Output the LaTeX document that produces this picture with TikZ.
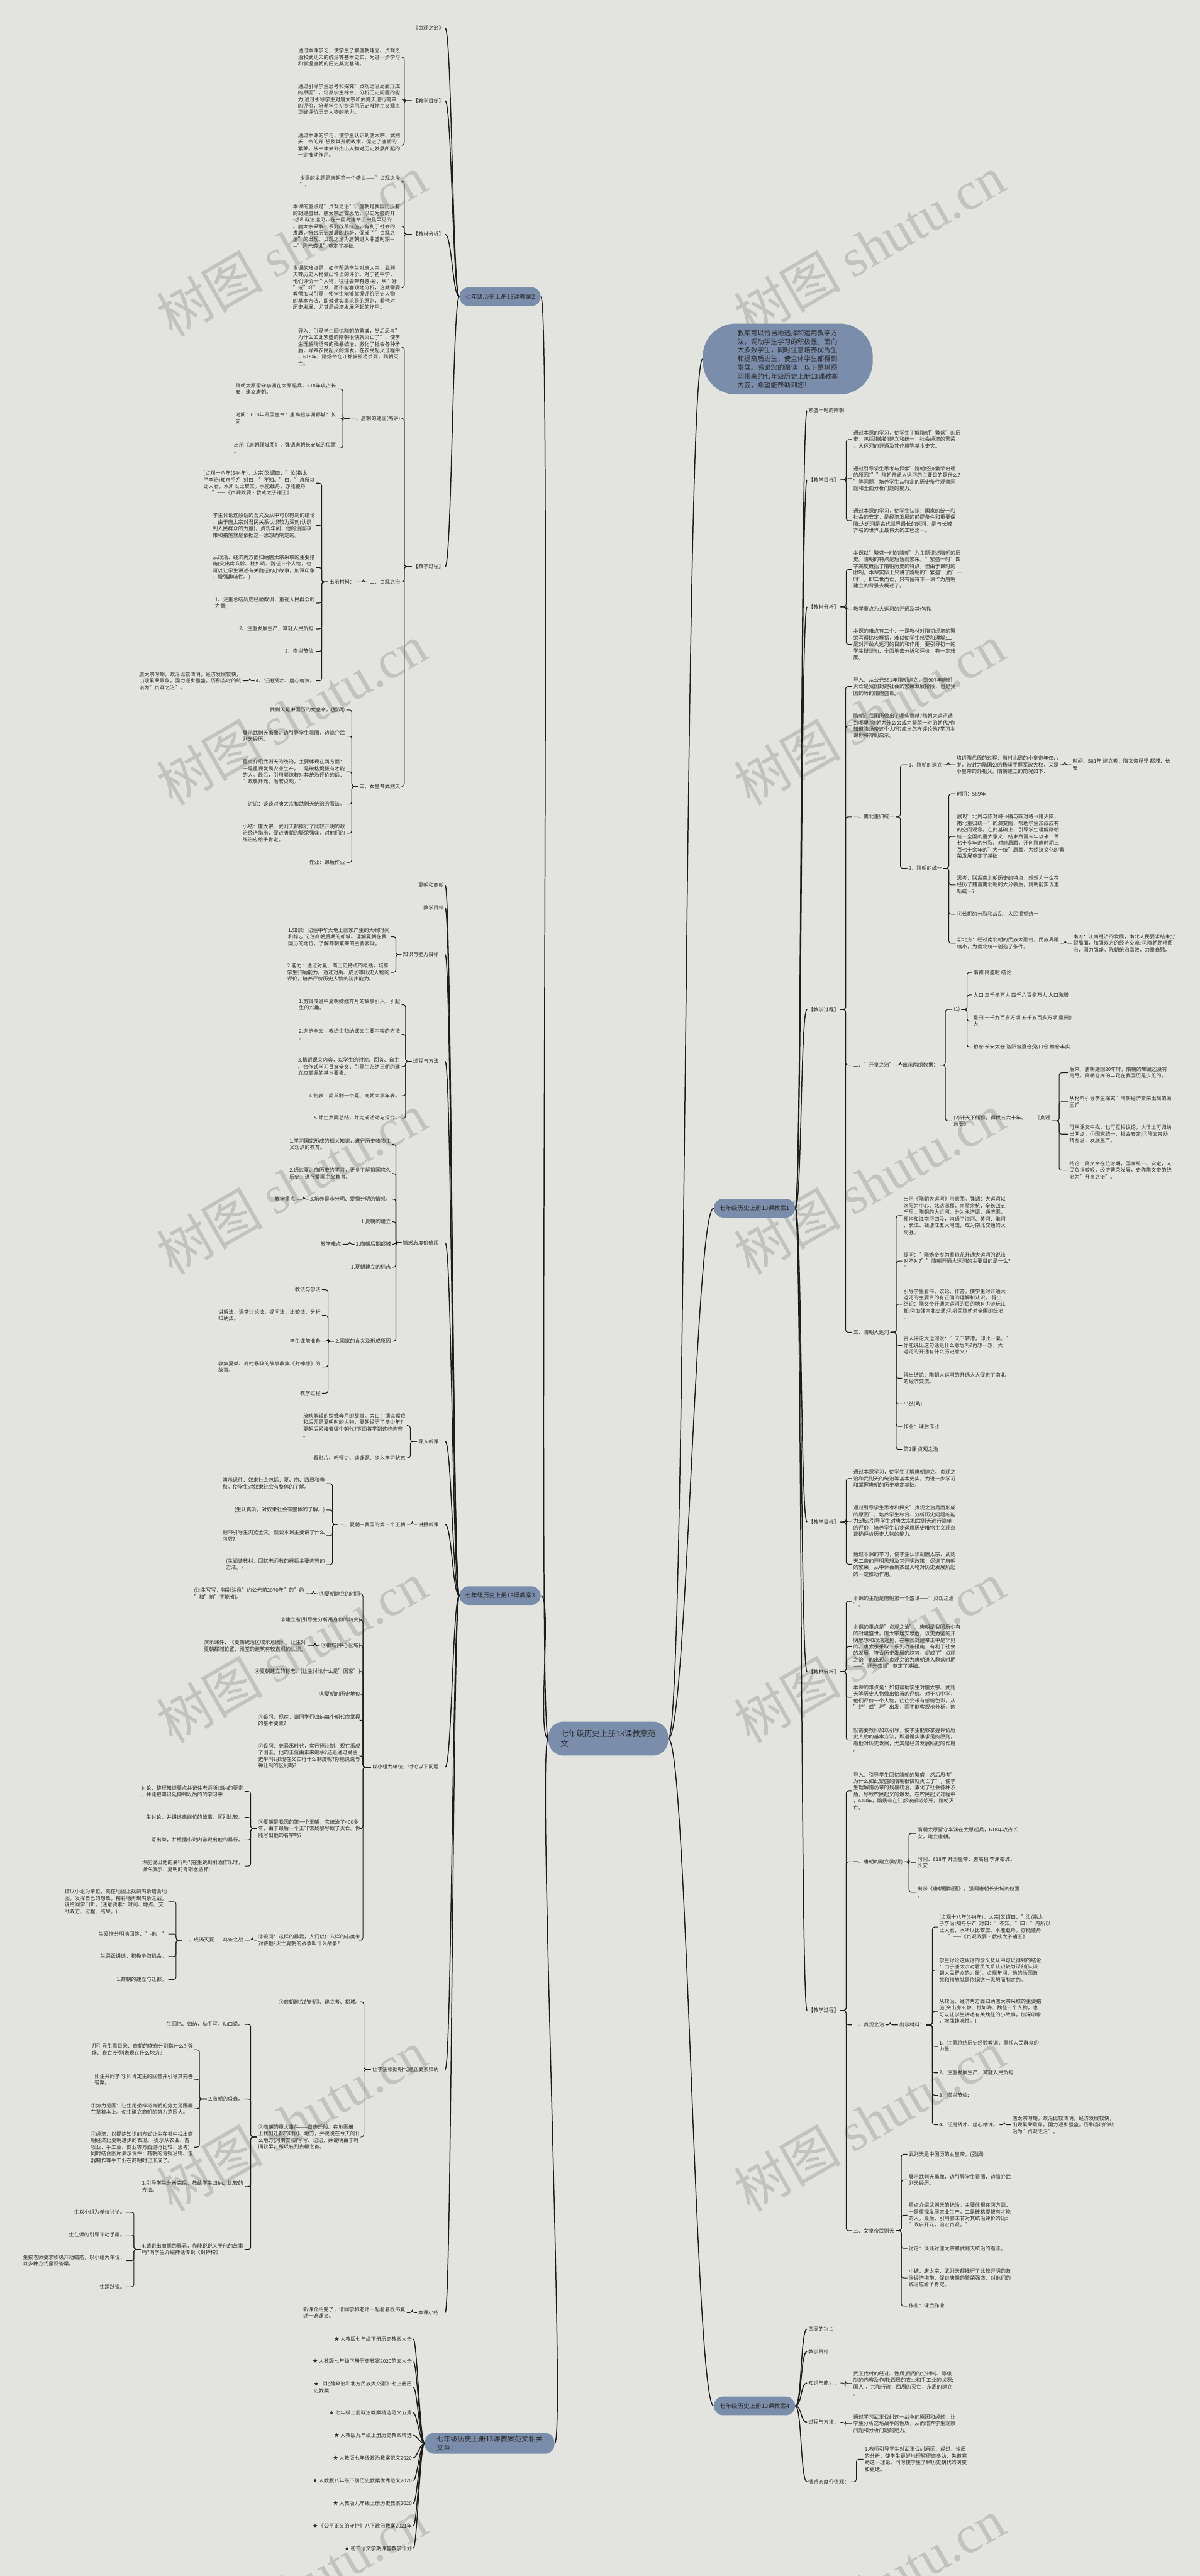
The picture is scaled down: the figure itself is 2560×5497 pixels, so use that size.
\documentclass[tikz,border=0pt]{standalone}
\usepackage{fontspec}
\setmainfont{Noto Sans CJK SC}
\newfontfamily\wmlat{Liberation Serif}
\definecolor{bg}{HTML}{E3E4DF}
\definecolor{nodeb}{HTML}{7A8DAB}
\definecolor{txt}{HTML}{2B2B2B}
\definecolor{lc}{HTML}{1C1C1C}
\definecolor{wm}{HTML}{C2C3BE}
\newcommand\fA{\fontsize{5.45}{7}\selectfont}
\newcommand\fL{\fontsize{6.4}{8}\selectfont}
\newcommand\fC{\fontsize{8.4}{10.4}\selectfont}
\newcommand\fR{\fontsize{7.5}{9.25}\selectfont}
\newcommand\fI{\fontsize{7.1}{9.25}\selectfont}
\newcommand\fW{\fontsize{57}{60}\selectfont}
\newcommand\LB[3]{\draw[lk] (#1.west) -- ++(-#3,0) |- (#2.east);}
\newcommand\RB[3]{\draw[lk] (#1.east) -- ++(#3,0) |- (#2.west);}
\newcommand\LC[2]{\draw[mk] (#1.west) .. controls +(-14,0) and +(14,0) .. (#2.east);}
\newcommand\RC[2]{\draw[mk] (#1.east) .. controls +(14,0) and +(-14,0) .. (#2.west);}
\tikzset{
 lt/.style={anchor=east, align=left, font=\fA, text=txt, inner sep=0pt, outer xsep=1.5pt},
 rt/.style={anchor=west, align=left, font=\fA, text=txt, inner sep=0pt, outer xsep=1.5pt},
 lk/.style={draw=lc, line width=0.7pt, rounded corners=2.5pt},
 mk/.style={draw=lc, line width=1pt},
 l1/.style={fill=nodeb, rounded corners=10pt, font=\fL, text=txt, inner xsep=6pt, inner ysep=5pt, minimum height=20pt, align=left},
 cnode/.style={fill=nodeb, rounded corners=16pt, font=\fC, text=txt, inner xsep=13pt, inner ysep=9pt, align=left},
 wmk/.style={text=wm, rotate=30, inner sep=0pt}
}
\begin{document}
\begin{tikzpicture}[x=0.5pt,y=-0.5pt]
\useasboundingbox (0,0) rectangle (2560,5497);
\fill[bg] (0,0) rectangle (2560,5497);
% watermarks
\foreach \yy in {525,1525,2525,3525,4525,5525}{
 \node[wmk] at (622,\yy) {\fW 树图 {\wmlat shutu.cn}};
 \node[wmk] at (1855,\yy) {\fW 树图 {\wmlat shutu.cn}};
}
% ================= center =================
\node[cnode] (c) at (1298,3710) {七年级历史上册13课教案范\\文};
\node[fill=nodeb, rounded corners=35pt, font=\fI, text=txt, align=left, inner xsep=37pt, minimum height=75.5pt] (intro) at (1681,766) {教案可以恰当地选择和运用教学方\\法，调动学生学习的积极性，面向\\大多数学生，同时注意培养优秀生\\和提高后进生，使全体学生都得到\\发展。感谢您的阅读，以下是树图\\网带来的七年级历史上册13课教案\\内容，希望能帮助到您！};
\node[l1,anchor=west] (n2) at (980,633) {七年级历史上册13课教案2};
\node[l1,anchor=west] (n3) at (980,3405) {七年级历史上册13课教案3};
\node[l1,anchor=east] (n1) at (1697,2578) {七年级历史上册13课教案1};
\node[l1,anchor=east] (n4) at (1697,5134) {七年级历史上册13课教案4};
\node[l1,anchor=west,font=\fR,inner xsep=12.5pt,inner ysep=3pt] (rel) at (906,5214) {七年级历史上册13课教案范文相关\\文章：};
\draw[mk] (c.west) .. controls +(-25,0) and +(25,0) .. (n2.east);
\draw[mk] (c.west) .. controls +(-25,0) and +(25,0) .. (n3.east);
\draw[mk] (c.west) .. controls +(-25,0) and +(25,0) .. (rel.east);
\draw[mk] (c.east) .. controls +(40,0) and +(-40,0) .. (intro.west);
\draw[mk] (c.east) .. controls +(40,0) and +(-40,0) .. (n1.west);
\draw[mk] (c.east) .. controls +(40,0) and +(-40,0) .. (n4.west);
% ================= 教案2 (left top) =================
\node[lt] (a1) at (950,60) {《贞观之治》};
\node[lt] (a2) at (950,215) {【教学目标】};
\node[lt] (a3) at (950,500) {【教材分析】};
\node[lt] (a4) at (950,1209) {【教学过程】};
\foreach \t in {a1,a2,a3,a4}{\LC{n2}{\t}}
\node[lt] (a2a) at (857,122) {通过本课学习，使学生了解唐朝建立、贞观之\\治和武则天的统治等基本史实，为进一步学习\\和掌握唐朝的历史奠定基础。};
\node[lt] (a2b) at (857,212) {通过引导学生思考和探究"贞观之治局面形成\\的原因"，培养学生综合、分析历史问题的能\\力;通过引导学生对唐太宗和武则天进行简单\\的评价，培养学生初步运用历史唯物主义观点\\正确评价历史人物的能力。};
\node[lt] (a2c) at (857,310) {通过本课的学习，使学生认识到唐太宗、武则\\天二帝的开-想及其开明政策，促进了唐朝的\\繁荣，从中体会到杰出人物对历史发展所起的\\一定推动作用。};
\foreach \t in {a2a,a2b,a2c}{\LB{a2}{\t}{16}}
\node[lt] (a3a) at (857,387) {本课的主题是唐朝第一个盛世——"贞观之治\\"。};
\node[lt] (a3b) at (857,483) {本课的重点是"贞观之治"。唐朝是我国历少有\\的封建盛世。唐太宗居安思危，以史为鉴的开\\-想和政治远见，在中国封建帝王中是罕见的\\。唐太宗采取一系列改革措施，有利于社会的\\发展，符合历史发展的趋势，促成了"贞观之\\治"的出现。贞观之治为唐朝进入鼎盛时期—\\—"开元盛世"奠定了基础。};
\node[lt] (a3c) at (857,614) {本课的难点是：如何帮助学生对唐太宗、武则\\天等历史人物做出恰当的评价。对于初中学，\\他们评价一个人物，往往会带有感-彩，从"好\\"或"坏"出发，而不能客观地分析，这就需要\\教师加以引导，使学生能够掌握评价历史人物\\的基本方法，即遵循实事求是的原则，看他对\\历史发展，尤其是经济发展所起的作用。};
\foreach \t in {a3a,a3b,a3c}{\LB{a3}{\t}{16}}
\node[lt] (a4a) at (857,741) {导入：引导学生回忆隋朝的繁盛，然后思考"\\为什么如此繁盛的隋朝很快就灭亡了"，使学\\生理解隋炀帝的残暴统治，激化了社会各种矛\\盾，导致农民起义的爆发。在农民起义过程中\\，618年，隋炀帝在江都被部将杀死，隋朝灭\\亡。};
\node[lt] (a4b) at (857,893) {一、唐朝的建立(略讲)};
\node[lt] (a4c) at (857,1242) {二、贞观之治};
\node[lt] (a4d) at (857,1678) {三、女皇帝武则天};
\foreach \t in {a4a,a4b,a4c,a4d}{\LB{a4}{\t}{16}}
\node[lt] (a4b1) at (720,830) {隋朝太原留守李渊在太原起兵，618年攻占长\\安，建立唐朝。};
\node[lt] (a4b2) at (720,892) {时间：618年开国皇帝：唐高祖李渊都城：长\\安};
\node[lt] (a4b3) at (720,956) {出示《唐朝疆域图》，强调唐朝长安城的位置\\。};
\foreach \t in {a4b1,a4b2,a4b3}{\LB{a4b}{\t}{14}}
\node[lt] (a4cm) at (760,1242) {出示材料：};
\LB{a4c}{a4cm}{10}
\node[lt] (a4c1) at (675,1031) {[贞观十八年(644年)，太宗]又谓曰："汝(指太\\子李治)知舟乎?"对曰："不知。"曰："舟所以\\比人君，水所以比黎庶。水能载舟，亦能覆舟\\......"——《贞观政要•教戒太子诸王》};
\node[lt] (a4c2) at (675,1121) {学生讨论这段话的含义及从中可以得到的结论\\：由于唐太宗对君民关系认识较为深刻(认识\\到人民群众的力量)，贞观年间，他的治国政\\策和措施就是依据这一思想而制定的。};
\node[lt] (a4c3) at (675,1211) {从政治、经济两方面归纳唐太宗采取的主要措\\施(突出房玄龄、杜如晦、魏征三个人物，也\\可以让学生讲述有关魏征的小故事，加深印象\\，增强趣味性。)};
\node[lt] (a4c4) at (675,1287) {1、注重总结历史经验教训，重视人民群众的\\力量;};
\node[lt] (a4c5) at (675,1342) {2、注重发展生产，减轻人民负担;};
\node[lt] (a4c6) at (675,1390) {3、崇尚节俭;};
\node[lt] (a4c7) at (675,1453) {4、任用贤才、虚心纳谏。};
\foreach \t in {a4c1,a4c2,a4c3,a4c4,a4c5,a4c6,a4c7}{\LB{a4cm}{\t}{13}}
\node[lt] (a4c7a) at (518,1453) {唐太宗时期，政治比较清明，经济发展较快，\\出现繁荣景象，国力逐步强盛。历称当时的统\\治为"贞观之治"。};
\LB{a4c7}{a4c7a}{10}
\node[lt] (a4d1) at (739,1515) {武则天是中国历的女皇帝。(强调)};
\node[lt] (a4d2) at (739,1571) {展示武则天画像，边引导学生看图，边简介武\\则天经历。};
\node[lt] (a4d3) at (739,1647) {重点介绍武则天的统治，主要体现在两方面：\\一是重视发展农业生产，二是破格提拔有才能\\的人。最后，引用郭沫若对其统治评价的话：\\"政启开元，治宏贞观。"};
\node[lt] (a4d4) at (739,1716) {讨论：谈谈对唐太宗和武则天统治的看法。};
\node[lt] (a4d5) at (739,1778) {小结：唐太宗、武则天都推行了比较开明的政\\治经济措施，促进唐朝的繁荣强盛，对他们的\\统治应给予肯定。};
\node[lt] (a4d6) at (739,1840) {作业：课后作业};
\foreach \t in {a4d1,a4d2,a4d3,a4d4,a4d5,a4d6}{\LB{a4d}{\t}{13}}
% ================= 教案3 (left) =================
\node[lt] (c1) at (950,1889) {夏朝和商朝};
\node[lt] (c2) at (950,1937) {教学目标};
\node[lt] (c3) at (950,2037) {知识与能力目标：};
\node[lt] (c4) at (950,2265) {过程与方法：};
\node[lt] (c5) at (950,2652) {情感态度价值观：};
\node[lt] (c6) at (950,3076) {导入新课：};
\node[lt] (c7) at (950,3253) {讲授新课：};
\node[lt] (c8) at (950,3771) {以小组为单位，讨论以下问题：};
\node[lt] (c9) at (950,4416) {让学生根据朝代建立要素归纳：};
\node[lt] (c10) at (950,4935) {本课小结：};
\foreach \t in {c1,c2,c3,c4,c5,c6,c7,c8,c9,c10}{\LC{n3}{\t}}
\node[lt] (c3a) at (834,1999) {1.知识：记住中华大地上国家产生的大概时间\\和标志,记住商朝后期的都城。理解夏朝在我\\国历的地位。了解商朝繁荣的主要表现。};
\node[lt] (c3b) at (834,2075) {2.能力：通过对夏、商历史特点的概括，培养\\学生归纳能力。通过对禹、成汤等历史人物的\\评价，培养评价历史人物的初步能力。};
\foreach \t in {c3a,c3b}{\LB{c3}{\t}{12}}
\node[lt] (c4a) at (857,2144) {1.剪辑传说中夏朝嫦娥奔月的故事引入，引起\\生的兴趣。};
\node[lt] (c4b) at (857,2207) {2.浏览全文，教给生归纳课文主要内容的方法\\。};
\node[lt] (c4c) at (857,2276) {3.精讲课文内容，以学生的讨论、回答、自主\\、合作式学习贯穿全文，引导生归纳王朝的建\\立应掌握的基本要素。};
\node[lt] (c4d) at (857,2338) {4.制表：简单制一个夏、商朝大事年表。};
\node[lt] (c4e) at (857,2386) {5.师生共同总结，并完成活动与探究。};
\foreach \t in {c4a,c4b,c4c,c4d,c4e}{\LB{c4}{\t}{13}}
\node[lt] (c5a) at (837,2442) {1.学习国家形成的相关知识，进行历史唯物主\\义观点的教育。};
\node[lt] (c5b) at (837,2504) {2.通过夏、商历史的学习，更多了解祖国悠久\\历史，进行爱国主义教育。};
\node[lt] (c5c) at (837,2559) {3.培养是非分明、爱憎分明的情感。};
\node[lt] (c5d) at (837,2607) {1.夏朝的建立};
\node[lt] (c5e) at (837,2655) {2.商朝后期都城};
\node[lt] (c5f) at (837,2704) {1.夏朝建立的标志};
\node[lt] (c5g) at (837,2862) {2.国家的含义及形成原因};
\foreach \t in {c5a,c5b,c5c,c5d,c5e,c5f,c5g}{\LB{c5}{\t}{12}}
\node[lt] (c5c1) at (633,2559) {教学重点};
\LB{c5c}{c5c1}{10}
\node[lt] (c5e1) at (731,2655) {教学难点};
\LB{c5e}{c5e1}{10}
\node[lt] (c5g1) at (687,2752) {教法与学法};
\node[lt] (c5g2) at (687,2807) {讲解法、课堂讨论法、提问法、比较法、分析\\归纳法。};
\node[lt] (c5g3) at (687,2862) {学生课前准备};
\node[lt] (c5g4) at (687,2917) {收集夏桀、商纣暴政的故事收集《封神榜》的\\故事。};
\node[lt] (c5g5) at (687,2973) {教学过程};
\foreach \t in {c5g1,c5g2,c5g3,c5g4,c5g5}{\LB{c5g}{\t}{13}}
\node[lt] (c6a) at (868,3042) {放映剪辑的嫦娥奔月的故事。旁白：据说嫦娥\\和后羿是夏朝时的人物，夏朝经历了多少年?\\夏朝后紧接着哪个朝代?下面将学到这些内容\\。};
\node[lt] (c6b) at (868,3111) {看影片、听师讲、读课题、步入学习状态};
\foreach \t in {c6a,c6b}{\LB{c6}{\t}{14}}
\node[lt] (d1) at (868,3253) {一、夏朝—我国的第一个王朝};
\LB{c7}{d1}{10}
\node[lt] (d1a) at (696,3166) {演示课件：奴隶社会包括：夏、商、西周和春\\秋，使学生对奴隶社会有整体的了解。};
\node[lt] (d1b) at (696,3222) {(生认真听，对奴隶社会有整体的了解。)};
\node[lt] (d1c) at (696,3277) {翻书引导生浏览全文，谈谈本课主要讲了什么\\内容?};
\node[lt] (d1d) at (696,3339) {(生阅读教材，回忆老师教的概括主要内容的\\方法。)};
\foreach \t in {d1a,d1b,d1c,d1d}{\LB{d1}{\t}{12}}
\node[lt] (e1) at (772,3401) {①夏朝建立的时间};
\node[lt] (e2) at (772,3457) {②建立者(引导生分析禹身份的转变)};
\node[lt] (e3) at (772,3512) {③都城(中心区域)};
\node[lt] (e4) at (772,3567) {④夏朝建立的标志：(让生讨论什么是"国家")};
\node[lt] (e5) at (772,3615) {⑤夏朝的历史地位};
\node[lt] (e6) at (772,3671) {⑥设问：现在，请同学们归纳每个朝代应掌握\\的基本要素?};
\node[lt] (e7) at (772,3747) {⑦设问：尧舜禹时代，实行禅让制，现在禹成\\了国王，他的王位由谁来继承?还是通过民主\\选举吗?那现在又实行什么制度呢?你能说说与\\禅让制的区别吗?};
\node[lt] (e8) at (772,3902) {⑧夏朝是我国的第一个王朝，它统治了400多\\年，由于最后一个王非常残暴导致了灭亡。你\\能写出他的名字吗?};
\node[lt] (e9) at (772,4140) {⑨设问：这样的暴君，人们以什么样的态度来\\对待他?灭亡夏朝的战争叫什么战争?};
\foreach \t in {e1,e2,e3,e4,e5,e6,e7,e8,e9}{\LB{c8}{\t}{17}}
\node[lt] (e1a) at (652,3401) {(让生写写，特别注意"约公元前2070年"的"约\\"和"前"不能省)。};
\LB{e1}{e1a}{10}
\node[lt] (e3a) at (656,3512) {演示课件：《夏朝统治区域示意图》，让生对\\夏朝都城位置、殿堂的建筑有较直观的认识。};
\LB{e3}{e3a}{10}
\node[lt] (e8a) at (522,3823) {讨论、整理知识要点并记住老师所归纳的要素\\、并能把知识延伸到以后的的学习中};
\node[lt] (e8b) at (522,3878) {生讨论，并讲述启继位的故事，区别比较。};
\node[lt] (e8c) at (522,3926) {写出桀，并根据小说内容说出他的暴行。};
\node[lt] (e8d) at (522,3982) {你能说出他的暴行吗?(在生说到引酒作乐时，\\课件演示：夏朝的青铜器酒杯)};
\foreach \t in {e8a,e8b,e8c,e8d}{\LB{e8}{\t}{13}}
\node[lt] (f) at (522,4140) {二、成汤灭夏——鸣条之战};
\LB{e9}{f}{10}
\node[lt] (f1) at (359,4058) {请以小组为单位，先在地图上找到鸣条结合地\\图，发挥自己的想象，精彩地再现鸣条之战，\\说给同学们听。(注意要素：时间、地点、交\\战双方、过程、结果。)};
\node[lt] (f2) at (359,4127) {生爱憎分明地回答："-他。"};
\node[lt] (f3) at (359,4175) {生踊跃讲述，积极争取机会。};
\node[lt] (f4) at (359,4224) {1.商朝的建立与迁都。};
\foreach \t in {f1,f2,f3,f4}{\LB{f}{\t}{13}}
\node[lt] (g1) at (772,4272) {①商朝建立的时间、建立者、都城。};
\node[lt] (g2) at (772,4560) {②商朝的重大事件——盘庚迁殷。在地图册\\上找出迁都的时间、地方，并说说在今天的什\\么地方(河南安阳)写写、记记，并说明由于时\\间较早，所以名列古都之首。};
\foreach \t in {g1,g2}{\LB{c9}{\t}{15}}
\node[lt] (g2a) at (522,4320) {生回忆、归纳，动手写，动口说。};
\node[lt] (h) at (522,4479) {2.商朝的盛衰。};
\node[lt] (g2c) at (522,4666) {3.引导学生分析完后，教给学生归纳、比较的\\方法。};
\node[lt] (i) at (522,4800) {4.请说出商朝的暴君，你能说说关于他的故事\\吗?向学生介绍神话传说《封神榜》};
\foreach \t in {g2a,h,g2c,i}{\LB{g2}{\t}{13}}
\node[lt] (h1) at (415,4374) {师引导生看目录：商朝的盛衰分别指什么?(强\\盛、衰亡)分别表现在什么地方?};
\node[lt] (h2) at (415,4437) {师生共同学习;师肯定生的回答并引导其完善\\答案。};
\node[lt] (h3) at (415,4500) {①势力范围：让生用坐标将商朝的势力范围画\\在草稿本上。使生确立商朝的势力范围大。};
\node[lt] (h4) at (415,4582) {②经济：以提炼知识的方式让生在书中找出商\\朝经济比夏朝进步的表现。(提示从农业、畜\\牧业、手工业、商业等方面进行比较、思考)\\同时结合图片演示课件：商朝的青铜冶铸、玉\\器制作等手工业在商朝时已形成了。};
\foreach \t in {h1,h2,h3,h4}{\LB{h}{\t}{16}}
\node[lt] (i1) at (270,4721) {生以小组为单位讨论。};
\node[lt] (i2) at (270,4769) {生在师的引导下动手画。};
\node[lt] (i3) at (270,4824) {生按老师要求积极开动脑筋，以小组为单位，\\以多种方式呈现答案。};
\node[lt] (i4) at (270,4880) {生踊跃说。};
\foreach \t in {i1,i2,i3,i4}{\LB{i}{\t}{14}}
\node[lt] (c10a) at (868,4935) {新课介绍完了，请同学和老师一起看着板书复\\述一遍课文。};
\LB{c10}{c10a}{10}
% ================= related =================
\node[lt] (r1) at (882,4991) {★ 人教版七年级下册历史教案大全};
\node[lt] (r2) at (882,5039) {★ 人教版七年级下册历史教案2020范文大全};
\node[lt] (r3) at (882,5094) {★ 《北魏政治和北方民族大交融》七上册历\\史教案};
\node[lt] (r4) at (882,5149) {★ 七年级上册政治教案精选范文五篇};
\node[lt] (r5) at (882,5197) {★ 人教版九年级上册历史教案精选};
\node[lt] (r6) at (882,5245) {★ 人教版七年级政治教案范文2020};
\node[lt] (r7) at (882,5293) {★ 人教版八年级下册历史教案优秀范文2020};
\node[lt] (r8) at (882,5342) {★ 人教版九年级上册历史教案2020};
\node[lt] (r9) at (882,5390) {★ 《公平正义的守护》八下政治教案2021年};
\node[lt] (r10) at (882,5438) {★ 初三语文学期课堂教学计划};
\foreach \t in {r1,r2,r3,r4,r5,r6,r7,r8,r9,r10}{\draw[mk] (rel.west) .. controls +(-10,0) and +(8,0) .. (\t.east);}
% ================= 教案1 (right) =================
\node[rt] (k1) at (1722,876) {繁盛一时的隋朝};
\node[rt] (k2) at (1722,1024) {【教学目标】};
\node[rt] (k3) at (1722,1295) {【教材分析】};
\node[rt] (k4) at (1722,2154) {【教学过程】};
\node[rt] (k5) at (1722,3248) {【教学目标】};
\node[rt] (k6) at (1722,3567) {【教材分析】};
\node[rt] (k7) at (1722,4290) {【教学过程】};
\foreach \t in {k1,k2,k3,k4,k5,k6,k7}{\RC{n1}{\t}}
\node[rt] (k2a) at (1818,938) {通过本课的学习，使学生了解隋朝"繁盛"的历\\史，包括隋朝的建立和统一，社会经济的繁荣\\，大运河的开通及其作用等基本史实。};
\node[rt] (k2b) at (1818,1021) {通过引导学生思考与探索"隋朝经济繁荣出现\\的原因?""隋朝开通大运河的主要目的是什么?\\"等问题，培养学生从特定的历史条件观察问\\题和全面分析问题的能力。};
\node[rt] (k2c) at (1818,1111) {通过本课的学习，使学生认识：国家的统一和\\社会的安定，是经济发展的前提条件和重要保\\障;大运河是古代世界最长的运河，是与长城\\齐名的世界上最伟大的工程之一。};
\foreach \t in {k2a,k2b,k2c}{\RB{k2}{\t}{12}}
\node[rt] (k3a) at (1818,1215) {本课以"繁盛一时的隋朝"为主题讲述隋朝的历\\史。隋朝的特点是短暂而繁荣。"繁盛一时"四\\字高度概括了隋朝历史的特点，但由于课时的\\限制，本课实际上只讲了隋朝的"繁盛";而"一\\时"，即二世而亡，只有留待下一课作为唐朝\\建立的背景去概述了。};
\node[rt] (k3b) at (1818,1300) {教学重点为大运河的开通及其作用。};
\node[rt] (k3c) at (1818,1375) {本课的难点有二个：一是教材对隋初经济的繁\\荣写得比较概括，难以使学生感受和理解;二\\是对开凿大运河的目的和作用，要引导初一的\\学生辩证地、全面地去分析和评价，有一定难\\度。};
\foreach \t in {k3a,k3b,k3c}{\RB{k3}{\t}{12}}
\node[rt] (m1) at (1818,1465) {导入：从公元581年隋朝建立，到907年唐朝\\灭亡是我国封建社会的繁荣发展阶段，也是我\\国的历的隋唐盛世。};
\node[rt] (m2) at (1818,1549) {隋朝在我国历做出了哪些贡献?隋朝大运河通\\到哪里?隋朝为什么会成为繁荣一时的朝代?你\\知道隋炀帝这个人吗?应当怎样评论他?学习本\\课你将得到启示。};
\node[rt] (m3) at (1818,1743) {一、南北重归统一};
\node[rt] (m4) at (1818,2273) {二、"开皇之治"};
\node[rt] (m5) at (1818,2843) {三、隋朝大运河};
\foreach \t in {m1,m2,m3,m4,m5}{\RB{k4}{\t}{11}}
\node[rt] (p1) at (1936,1632) {1、隋朝的建立};
\node[rt] (p2) at (1936,1853) {2、隋朝的统一};
\foreach \t in {p1,p2}{\RB{m3}{\t}{10}}
\node[rt] (p1a) at (2038,1632) {略讲隋代周的过程：当时北周的小皇帝年仅八\\岁，被封为隋国公的杨坚手握军政大权，又是\\小皇帝的外祖父。隋朝建立的简况如下：};
\RB{p1}{p1a}{10}
\node[rt] (p1b) at (2286,1632) {时间：581年 建立者：隋文帝杨坚 都城：长\\安};
\RB{p1a}{p1b}{10}
\node[rt] (p2a) at (2039,1694) {时间：589年};
\node[rt] (p2b) at (2039,1785) {展现"北周与陈对峙→隋与陈对峙→隋灭陈，\\南北重归统一"的演变图，帮助学生形成应有\\的空间观念。在此基础上，引导学生理解隋朝\\统一全国的重大意义：结束西晋末年以来二百\\七十多年的分裂、对峙局面，开创隋唐时期三\\百七十余年的"大一统"局面，为经济文化的繁\\荣发展奠定了基础};
\node[rt] (p2c) at (2039,1888) {思考：联系南北朝历史的特点，想想为什么在\\经历了魏晋南北朝的大分裂后，隋朝能实现重\\新统一?};
\node[rt] (p2d) at (2039,1951) {①长期的分裂和战乱，人民渴望统一};
\node[rt] (p2e) at (2039,2013) {②北方：经过南北朝的民族大融合，民族界限\\缩小，为南北统一创造了条件。};
\foreach \t in {p2a,p2b,p2c,p2d,p2e}{\RB{p2}{\t}{11}}
\node[rt] (p2f) at (2287,2013) {南方：江南经济的发展，南北人民要求结束分\\裂局面，加强双方的经济交流; ③隋朝励精图\\治，国力强盛。陈朝统治腐败，力量衰弱。};
\RB{p2e}{p2f}{10}
\node[rt] (r) at (1923,2273) {出示两组数据：};
\RB{m4}{r}{10}
\node[rt] (ra) at (2032,2154) {(1)};
\node[rt] (rb) at (2032,2392) {(2)计天下储积，得供五六十年。——《贞观\\政要》};
\foreach \t in {ra,rb}{\RB{r}{\t}{12}}
\node[rt] (ra1) at (2074,2075) {隋初 隋盛时 结论};
\node[rt] (ra2) at (2074,2123) {人口 三千多万人 四千六百多万人 人口激增};
\node[rt] (ra3) at (2074,2179) {垦田 一千九百多万顷 五千五百多万顷 垦田扩\\大};
\node[rt] (ra4) at (2074,2234) {粮仓 长安太仓 洛阳含嘉仓;洛口仓 粮仓丰实};
\foreach \t in {ra1,ra2,ra3,ra4}{\RB{ra}{\t}{12}}
\node[rt] (rb1) at (2279,2289) {后来，唐朝建国20年时，隋朝的库藏还没有\\用尽。隋朝仓库的丰足在我国历是少见的。};
\node[rt] (rb2) at (2279,2351) {从材料引导学生探究"隋朝经济繁荣出现的原\\因?"};
\node[rt] (rb3) at (2279,2420) {可从课文中找，也可互相议论，大体上可归纳\\出两点：①国家统一，社会安定;②隋文帝励\\精图治，发展生产。};
\node[rt] (rb4) at (2279,2497) {结论：隋文帝在位时期，国家统一、安定，人\\民负担较轻，经济繁荣发展，史称隋文帝的统\\治为"开皇之治"。};
\foreach \t in {rb1,rb2,rb3,rb4}{\RB{rb}{\t}{16}}
\node[rt] (m5a) at (1925,2594) {出示《隋朝大运河》示意图。强调：大运河以\\洛阳为中心，北达涿郡，南至余杭，全长四五\\千里。隋朝的大运河，分为永济渠、通济渠、\\邗沟和江南河四段，沟通了海河、黄河、淮河\\、长江、钱塘江五大河流，成为南北交通的大\\动脉。};
\node[rt] (m5b) at (1925,2691) {提问："隋炀帝专为看琼花开通大运河的说法\\对不对?""隋朝开通大运河的主要目的是什么?\\"};
\node[rt] (m5c) at (1925,2783) {引导学生看书、议论、作答，使学生对开通大\\运河的主要目的有正确的理解和认识。 得出\\结论：隋文帝开通大运河的目的地有①游玩江\\都;②加强南北交通;③巩固隋朝对全国的统治\\。};
\node[rt] (m5d) at (1925,2871) {古人评论大运河说："天下转漕，仰此一渠。"\\你能说出这句话是什么意思吗?再想一想，大\\运河的开通有什么历史意义?};
\node[rt] (m5e) at (1925,2941) {得出结论：隋朝大运河的开通大大促进了南北\\的经济交流。};
\node[rt] (m5f) at (1925,2996) {小结(略)};
\node[rt] (m5g) at (1925,3044) {作业：课后作业};
\node[rt] (m5h) at (1925,3093) {第2课 贞观之治};
\foreach \t in {m5a,m5b,m5c,m5d,m5e,m5f,m5g,m5h}{\RB{m5}{\t}{12}}
\node[rt] (k5a) at (1818,3155) {通过本课学习，使学生了解唐朝建立、贞观之\\治和武则天的统治等基本史实，为进一步学习\\和掌握唐朝的历史奠定基础。};
\node[rt] (k5b) at (1818,3246) {通过引导学生思考和探究"贞观之治局面形成\\的原因"，培养学生综合、分析历史问题的能\\力;通过引导学生对唐太宗和武则天进行简单\\的评价，培养学生初步运用历史唯物主义观点\\正确评价历史人物的能力。};
\node[rt] (k5c) at (1818,3338) {通过本课的学习，使学生认识到唐太宗、武则\\天二帝的开明思想及其开明政策，促进了唐朝\\的繁荣，从中体会到杰出人物对历史发展所起\\的一定推动作用。};
\foreach \t in {k5a,k5b,k5c}{\RB{k5}{\t}{12}}
\node[rt] (k6a) at (1818,3417) {本课的主题是唐朝第一个盛世——"贞观之治\\"。};
\node[rt] (k6b) at (1818,3514) {本课的重点是"贞观之治"。唐朝是我国历少有\\的封建盛世。唐太宗居安思危，以史为鉴的开\\明思想和政治远见，在中国封建帝王中是罕见\\的。唐太宗采取一系列改革措施，有利于社会\\的发展，符合历史发展的趋势，促成了"贞观\\之治"的出现。贞观之治为唐朝进入鼎盛时期\\——"开元盛世"奠定了基础。};
\node[rt] (k6c) at (1818,3622) {本课的难点是：如何帮助学生对唐太宗、武则\\天等历史人物做出恰当的评价。对于初中学，\\他们评价一个人物，往往会带有感情色彩，从\\"好"或"坏"出发，而不能客观地分析，这};
\node[rt] (k6d) at (1818,3713) {就需要教师加以引导，使学生能够掌握评价历\\史人物的基本方法，即遵循实事求是的原则，\\看他对历史发展，尤其是经济发展所起的作用\\。};
\foreach \t in {k6a,k6b,k6c,k6d}{\RB{k6}{\t}{12}}
\node[rt] (s1) at (1818,3822) {导入：引导学生回忆隋朝的繁盛，然后思考"\\为什么如此繁盛的隋朝很快就灭亡了"，使学\\生理解隋炀帝的残暴统治，激化了社会各种矛\\盾，导致农民起义的爆发。在农民起义过程中\\，618年，隋炀帝在江都被部将杀死，隋朝灭\\亡。};
\node[rt] (s2) at (1818,3973) {一、唐朝的建立(略讲)};
\node[rt] (s3) at (1818,4321) {二、贞观之治};
\node[rt] (s4) at (1818,4760) {三、女皇帝武则天};
\foreach \t in {s1,s2,s3,s4}{\RB{k7}{\t}{12}}
\node[rt] (s2a) at (1955,3912) {隋朝太原留守李渊在太原起兵，618年攻占长\\安，建立唐朝。};
\node[rt] (s2b) at (1955,3974) {时间：618年 开国皇帝：唐高祖 李渊都城：\\长安};
\node[rt] (s2c) at (1955,4038) {出示《唐朝疆域图》，强调唐朝长安城的位置\\。};
\foreach \t in {s2a,s2b,s2c}{\RB{s2}{\t}{10}}
\node[rt] (t) at (1916,4321) {出示材料：};
\RB{s3}{t}{10}
\node[rt] (t1) at (2001,4112) {[贞观十八年(644年)，太宗]又谓曰："汝(指太\\子李治)知舟乎?"对曰："不知。"曰："舟所以\\比人君，水所以比黎庶。水能载舟，亦能覆舟\\......"——《贞观政要•教戒太子诸王》};
\node[rt] (t2) at (2001,4204) {学生讨论这段话的含义及从中可以得到的结论\\：由于唐太宗对君民关系认识较为深刻(认识\\到人民群众的力量)，贞观年间，他的治国政\\策和措施就是依据这一思想而制定的。};
\node[rt] (t3) at (2001,4292) {从政治、经济两方面归纳唐太宗采取的主要措\\施(突出房玄龄、杜如晦、魏征三个人物，也\\可以让学生讲述有关魏征的小故事，加深印象\\，增强趣味性。)};
\node[rt] (t4) at (2001,4367) {1、注重总结历史经验教训，重视人民群众的\\力量;};
\node[rt] (t5) at (2001,4423) {2、注重发展生产，减轻人民负担;};
\node[rt] (t6) at (2001,4471) {3、崇尚节俭;};
\node[rt] (t7) at (2001,4534) {4、任用贤才、虚心纳谏。};
\foreach \t in {t1,t2,t3,t4,t5,t6,t7}{\RB{t}{\t}{13}}
\node[rt] (t7a) at (2157,4534) {唐太宗时期，政治比较清明，经济发展较快，\\出现繁荣景象，国力逐步强盛。历称当时的统\\治为"贞观之治"。};
\RB{t7}{t7a}{10}
\node[rt] (s4a) at (1936,4597) {武则天是中国历的女皇帝。(强调)};
\node[rt] (s4b) at (1936,4652) {展示武则天画像，边引导学生看图，边简介武\\则天经历。};
\node[rt] (s4c) at (1936,4727) {重点介绍武则天的统治，主要体现在两方面：\\一是重视发展农业生产，二是破格提拔有才能\\的人。最后，引用郭沫若对其统治评价的话：\\"政启开元，治宏贞观。"};
\node[rt] (s4d) at (1936,4798) {讨论：谈谈对唐太宗和武则天统治的看法。};
\node[rt] (s4e) at (1936,4861) {小结：唐太宗、武则天都推行了比较开明的政\\治经济措施，促进唐朝的繁荣强盛，对他们的\\统治应给予肯定。};
\node[rt] (s4f) at (1936,4921) {作业：课后作业};
\foreach \t in {s4a,s4b,s4c,s4d,s4e,s4f}{\RB{s4}{\t}{12}}
% ================= 教案4 (right bottom) =================
\node[rt] (v1) at (1722,4970) {西周的兴亡};
\node[rt] (v2) at (1722,5018) {教学目标};
\node[rt] (v3) at (1722,5085) {知识与能力：};
\node[rt] (v4) at (1722,5169) {过程与方法：};
\node[rt] (v5) at (1722,5296) {情感态度价值观：};
\foreach \t in {v1,v2,v3,v4,v5}{\RC{n4}{\t}}
\node[rt] (v3a) at (1818,5086) {武王伐纣的经过、性质;西周的分封制、等级\\制的内容及作用;西周的农业和手工业的状况;\\国人-，共和行政，西周的灭亡，东周的建立\\。};
\RB{v3}{v3a}{10}
\node[rt] (v4a) at (1818,5172) {通过学习武王伐纣这一战争的原因和经过，让\\学生分析这场战争的性质，从而培养学生观察\\问题和分析问题的能力。};
\RB{v4}{v4a}{10}
\node[rt] (v5a) at (1842,5248) {1.教师引导学生对武王伐纣原因、经过、性质\\的分析，使学生更好地理解得道多助，失道寡\\助这一理论。同时使学生了解历史朝代的演变\\和更迭。};
\RB{v5}{v5a}{12}
\end{tikzpicture}
\end{document}
